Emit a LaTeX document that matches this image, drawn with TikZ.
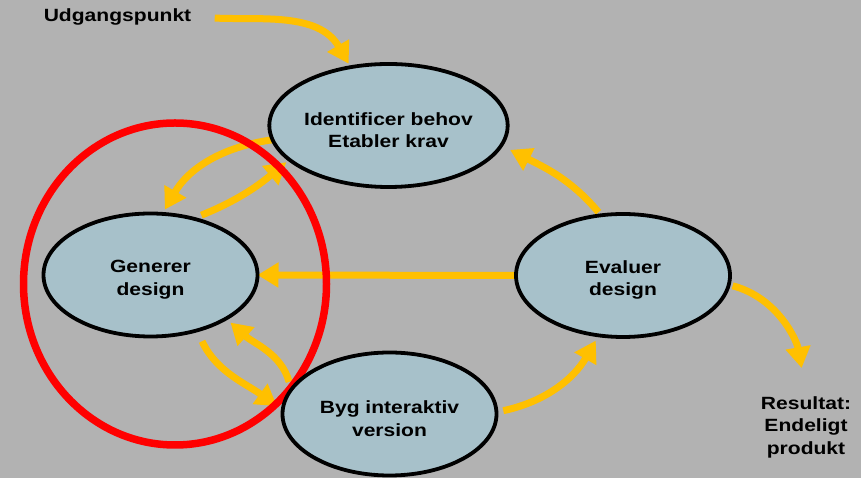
\documentclass[tikz,border=0pt]{standalone}
\usepackage{fontspec}
\usepackage{tikz}
\usepackage{tkz-graph}
\usetikzlibrary{arrows.meta,shapes.geometric}
\newfontfamily\diagfont{Liberation Sans}[FakeStretch=1.19]
\definecolor{slidegray}{HTML}{B2B2B2}
\definecolor{nodeblue}{HTML}{A7C1CA}
\definecolor{flowyellow}{HTML}{FFC000}
\pgfdeclarelayer{back}
\pgfdeclarelayer{flows}
\pgfdeclarelayer{ring}
\pgfsetlayers{back,flows,ring,main}
\newcommand\topgap{\rule{0pt}{22pt}}
\tikzset{
  flow/.style={draw=flowyellow, line width=7pt, -{Triangle[length=21pt,width=24pt]}},
  caption/.style={font=\diagfont\bfseries\fontsize{17.7}{22.5}\selectfont, align=center},
}

\begin{document}
\begin{tikzpicture}[x=1pt,y=1pt]
\begin{pgfonlayer}{back}
\fill[slidegray] (0,0) rectangle (861,478);
\end{pgfonlayer}
\useasboundingbox (0,0) rectangle (861,478);
\GraphInit[vstyle=Normal]
\SetVertexNormal[Shape=ellipse, LineWidth=4pt, FillColor=nodeblue]
\tikzset{VertexStyle/.append style={minimum width=214pt, minimum height=123pt, inner sep=0pt,
  line width=3.8pt, caption}}
\Vertex[x=388.5,y=352.5,L={\topgap Identificer behov\\Etabler krav}]{ident}
\Vertex[x=150.5,y=203,L={\topgap Generer\\design}]{gen}
\Vertex[x=623,y=202.5,L={\topgap Evaluer\\design}]{eval}
\Vertex[x=389.5,y=64,L={\topgap Byg interaktiv\\version}]{byg}
\node[caption] (udg) at (117.5,461) {Udgangspunkt};
\node[caption] (res) at (806,51) {Resultat:\\Endeligt\\produkt};
% flows
\begin{pgfonlayer}{flows}
\draw[flow, shorten <=20pt, shorten >=4pt] (udg.east) to[out=-3, in=120] (ident.123);
\draw[flow, shorten >=5pt] (ident.187) to[out=188, in=60] (gen.79);
\draw[flow, shorten <=9pt, shorten >=4pt] (gen.53) to[out=22, in=220] (ident.199);
\draw[flow] (eval.west) -- (gen.east);
\draw[flow, shorten <=4pt, shorten >=10pt] (eval.110) to[out=130, in=-27] (ident.-10);
\draw[flow, shorten <=4pt, shorten >=25pt] (eval.-5) to[out=-15, in=100] (res.north);
\draw[flow, shorten <=12pt, shorten >=7pt] (gen.-50) to[out=-65, in=144] (byg.178);
\draw[flow, shorten <=8pt, shorten >=6pt] (byg.166) to[out=106, in=-42] (gen.-30);
\draw[flow, shorten <=7pt, shorten >=6pt] (byg.1) to[out=12, in=240] (eval.248);
\end{pgfonlayer}
% red ring
\begin{pgfonlayer}{ring}
\draw[red, line width=7.5pt] (175,194) ellipse [x radius=151.5, y radius=161];
\end{pgfonlayer}
\end{tikzpicture}
\end{document}
